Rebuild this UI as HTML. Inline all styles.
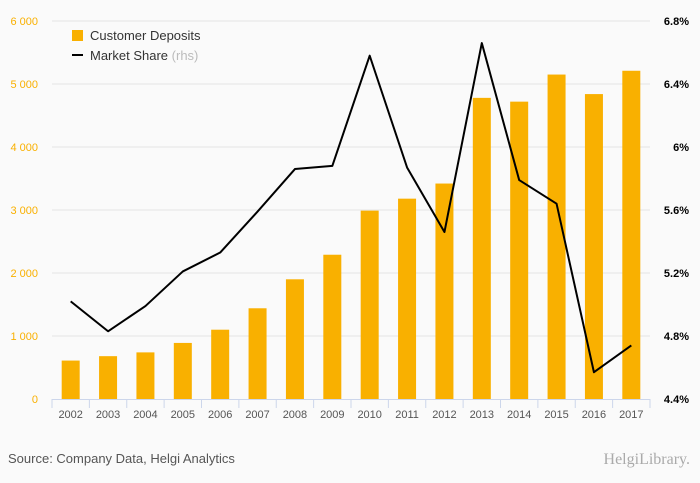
<!DOCTYPE html>
<html><head><meta charset="utf-8"><style>
body{margin:0;background:#fafafa;font-family:"Liberation Sans",sans-serif}
svg{display:block}
</style></head><body>
<svg id="c" width="700" height="483">
<rect width="700" height="483" fill="#fafafa"/>
<g id="grid"></g><g id="bars"></g><g id="line"></g><g id="axes"></g>
<g>
<rect x="72" y="30" width="11" height="11" fill="#f9b000"/>
<text x="90" y="40" font-size="13" fill="#333">Customer Deposits</text>
<line x1="72" y1="55" x2="83" y2="55" stroke="#000" stroke-width="2"/>
<text x="90" y="60" font-size="13" fill="#333">Market Share <tspan fill="#bbb">(rhs)</tspan></text>
</g>
<text x="8" y="463" font-size="13" fill="#555">Source: Company Data, Helgi Analytics</text>
<text x="690" y="464" font-size="16" fill="#aaa" text-anchor="end" font-family="Liberation Serif,serif">HelgiLibrary.</text>
</svg>
<script>
const years=["2002","2003","2004","2005","2006","2007","2008","2009","2010","2011","2012","2013","2014","2015","2016","2017"];
const deposits=[610,680,740,890,1100,1440,1900,2290,2990,3180,3420,4780,4720,5150,4840,5210];
const share=[5.02,4.83,4.99,5.21,5.33,5.59,5.86,5.88,6.58,5.87,5.46,6.66,5.79,5.64,4.57,4.74];
const leftTicks=[0,1000,2000,3000,4000,5000,6000];
const leftLabels=["0","1 000","2 000","3 000","4 000","5 000","6 000"];
const rightTicks=[4.4,4.8,5.2,5.6,6.0,6.4,6.8];
const rightLabels=["4.4%","4.8%","5.2%","5.6%","6%","6.4%","6.8%"];
const NS="http://www.w3.org/2000/svg";
const X0=52,X1=650,Y0=399,Y1=21;
const step=(X1-X0)/years.length;
const xc=i=>X0+step*(i+0.5);
const yl=v=>Y0-(v/6000)*(Y0-Y1);
const yr=v=>Y0-((v-4.4)/2.4)*(Y0-Y1);
function mk(p,tag,a){const e=document.createElementNS(NS,tag);for(const k in a)e.setAttribute(k,a[k]);document.getElementById(p).appendChild(e);return e;}
leftTicks.forEach((t,i)=>{
 if(i>0){const g=mk('grid','line',{x1:X0,x2:X1,y1:yl(t),y2:yl(t),stroke:'#e4e4e4'});
 
 }
 const l=mk('axes','text',{x:38,y:yl(t)+4,'font-size':11,fill:'#f9b000','text-anchor':'end'});l.textContent=leftLabels[i];
 
 
});
rightTicks.forEach((t,i)=>{
 const l=mk('axes','text',{x:689,y:yr(t)+4,'font-size':11,fill:'#000','text-anchor':'end','font-weight':'bold'});l.textContent=rightLabels[i];
 
 
});
const ax=mk('axes','line',{x1:X0,x2:X1,y1:Y0+0.5,y2:Y0+0.5,stroke:'#ccd6eb'});


for(let i=0;i<=years.length;i++){const t=mk('axes','line',{x1:X0+step*i,x2:X0+step*i,y1:Y0,y2:Y0+9,stroke:'#ccd6eb'});
 
 }
years.forEach((y,i)=>{
 const b=mk('bars','rect',{x:xc(i)-9,y:yl(deposits[i]),width:18,height:Y0-yl(deposits[i]),fill:'#f9b000'});
 
 
 const l=mk('axes','text',{x:xc(i),y:418,'font-size':11,fill:'#555','text-anchor':'middle'});l.textContent=y;
 
 
});
const p=mk('line','polyline',{points:share.map((v,i)=>xc(i)+','+yr(v)).join(' '),fill:'none',stroke:'#000','stroke-width':2,'stroke-linejoin':'round'});


</script>
</body></html>
